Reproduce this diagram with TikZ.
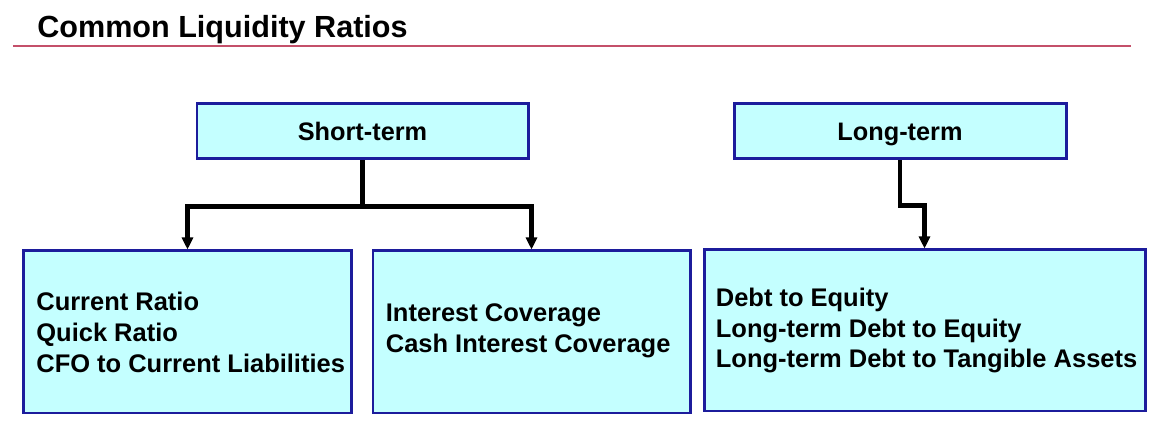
\documentclass[tikz,border=0pt]{standalone}
\usepackage{fontspec}
\setmainfont{Liberation Sans}
\usepackage{xcolor}
\usetikzlibrary{arrows.meta}

\definecolor{boxfill}{HTML}{C4FFFF}
\definecolor{boxline}{HTML}{1C1C9C}
\definecolor{rule}{HTML}{C4506A}

\tikzset{
	ratiobox/.style={draw=boxline,fill=boxfill,line width=1.7pt,font=\bfseries\fontsize{14.4}{17.3}\selectfont,text height=12pt,text depth=1.6pt},
	listtext/.style={anchor=west,inner sep=0pt,align=left,font=\bfseries\fontsize{14.5}{17.6}\selectfont},
	conn/.style={line width=2.3pt,-{Triangle[length=0.24cm,width=0.22cm]}}
}

\begin{document}
\begin{tikzpicture}
				\useasboundingbox (0,0) rectangle (23.38,8.58);
				
				\node[anchor=base west,font=\bfseries\fontsize{17.4}{20}\selectfont,inner sep=0pt] (title) at (0.74,7.82) {Common Liquidity Ratios};
				\draw[rule,line width=0.6pt] (0.26,7.66) -- (22.62,7.66);
				
				\node[ratiobox,minimum width=6.62cm,minimum height=1.1cm] (st) at (7.25,5.95) {Short-term};%short
				\node[ratiobox,minimum width=6.64cm,minimum height=1.1cm] (lt) at (18.0,5.95) {Long-term};%long
				
				\node[ratiobox,minimum width=6.56cm,minimum height=3.24cm] (cur) at (3.75,1.94) {};
				\node[ratiobox,minimum width=6.34cm,minimum height=3.24cm] (cov) at (10.63,1.94) {};
				\node[ratiobox,minimum width=8.82cm,minimum height=3.22cm] (debt) at (18.49,1.97) {};
				
				\node[listtext] (curtext) at ([xshift=0.28cm,yshift=0.0cm]cur.west) {Current Ratio\\Quick Ratio\\CFO to Current Liabilities};
				\node[listtext] (covtext) at ([xshift=0.28cm,yshift=0.02cm]cov.west) {Interest Coverage\\Cash Interest Coverage};
				\node[listtext] (debttext) at ([xshift=0.26cm,yshift=0.0cm]debt.west) {Debt to Equity\\Long-term Debt to Equity\\Long-term Debt to Tangible Assets};
				
				\draw[conn] (st.south) -- ++(0,-0.92) -| (cur.north);
				\draw[conn] (st.south) -- ++(0,-0.92) -| (cov.north);
				\draw[conn] (lt.south) -- ++(0,-0.9) -| (debt.north);
			\end{tikzpicture}
\end{document}
